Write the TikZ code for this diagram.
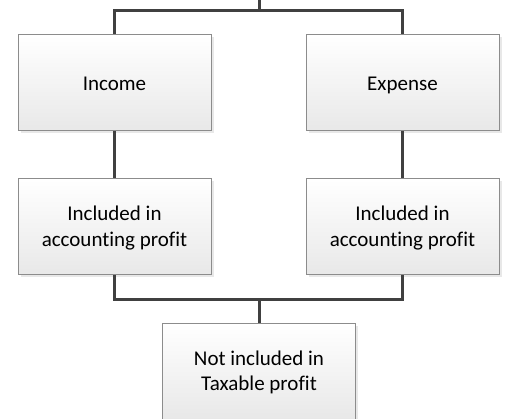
\documentclass[tikz,border=0pt]{standalone}
\usepackage{fontspec}
\setmainfont[Ligatures=NoCommon]{Carlito}
\usetikzlibrary{shadows}
\definecolor{boxline}{HTML}{8C8C8C}
\definecolor{wire}{HTML}{404040}
\tikzset{
  entry/.style={draw=boxline, line width=1pt, top color=white, bottom color=black!9,
    minimum width=193pt, minimum height=96pt, align=center, inner sep=0pt,
    font=\fontsize{21}{25.5}\selectfont,
    drop shadow={shadow xshift=2.5pt, shadow yshift=-2.5pt, fill=black!18, opacity=.5}},
  oneline/.style={entry, text height=20pt, text depth=4pt},
  wire/.style={draw=wire, line width=3pt}
}
\begin{document}
\begin{tikzpicture}[x=1pt, y=-1pt]
  \useasboundingbox (0,0) rectangle (508,419);
  \coordinate (top) at (259,0);
  \node[oneline] (income)  at (114.5,83) {Income};
  \node[oneline] (expense) at (402.5,83) {Expense};
  \node[entry] (incacc)  at (114.5,227) {\rule{0pt}{17pt}Included in\\accounting profit};
  \node[entry] (expacc)  at (402.5,227) {\rule{0pt}{17pt}Included in\\accounting profit};
  \node[entry] (nottax)  at (259,371) {\rule{0pt}{17pt}Not included in\\Taxable profit};
  % branching from above into the two categories
  \draw[wire] (top) -- (top |- 0,11) -| (income.north);
  \draw[wire] (top |- 0,11) -| (expense.north);
  \draw[wire] (income) -- (incacc);
  \draw[wire] (expense) -- (expacc);
  % both join into the bottom box
  \draw[wire] (incacc.south) |- (259,299) -| (expacc.south);
  \draw[wire] (259,299) -- (nottax.north);
\end{tikzpicture}
\end{document}
